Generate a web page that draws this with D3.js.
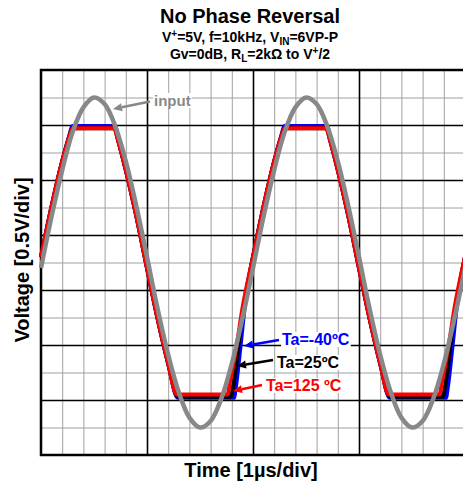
<!DOCTYPE html>
<html>
<head>
<meta charset="UTF-8">
<script src="https://d3js.org/d3.v7.min.js"></script>
<style>
  body { margin: 0; background: #fff; }
  svg { display: block; font-family: "Liberation Sans", Arial, sans-serif; }
</style>
</head>
<body>
<div id="chart"></div>
<script>
// sample times [us] and input sine [V]
var sampleTimes = [0.0,0.1,0.2,0.3,0.4,0.5,0.6,0.7,0.8,0.9,1.0,1.1,1.2,1.3,1.4,1.5,1.6,1.7,1.8,1.9,
                   2.0,2.1,2.2,2.3,2.4,2.5,2.6,2.7,2.8,2.9,3.0,3.1,3.2,3.3,3.4,3.5,3.6,3.7,3.8,3.9,4.0];
var inputValues = [2.45,2.92,3.34,3.69,3.91,4.00,3.94,3.74,3.42,3.01,2.55,2.08,1.66,1.32,1.09,1.00,1.06,1.26,1.58,1.99,
                   2.45,2.92,3.34,3.69,3.91,4.00,3.94,3.74,3.42,3.01,2.55,2.08,1.66,1.32,1.09,1.00,1.06,1.26,1.58,1.99,2.45];

// output traces, [time us, volts]
var outBlue = [[0.00,2.55],[0.10,3.01],[0.20,3.42],[0.26,3.63],[0.30,3.74],[0.70,3.74],[0.73,3.61],[0.80,3.34],[0.90,2.92],
  [1.00,2.45],[1.10,1.99],[1.20,1.58],[1.29,1.27],[1.82,1.27],[1.84,1.38],[1.88,1.72],[1.92,2.08],[1.97,2.40],
  [2.00,2.55],[2.10,3.01],[2.20,3.42],[2.26,3.63],[2.30,3.74],[2.70,3.74],[2.73,3.61],[2.80,3.34],[2.90,2.92],
  [3.00,2.45],[3.10,1.99],[3.20,1.58],[3.29,1.27],[3.82,1.27],[3.84,1.38],[3.88,1.72],[3.92,2.08],[3.97,2.40],[4.00,2.55]];
var outBlack = [[0.00,2.55],[0.10,3.01],[0.20,3.42],[0.26,3.62],[0.30,3.72],[0.69,3.72],[0.73,3.60],[0.80,3.34],[0.90,2.92],
  [1.00,2.45],[1.10,1.99],[1.20,1.58],[1.29,1.28],[1.79,1.28],[1.81,1.36],[1.84,1.56],[1.88,1.90],[1.95,2.31],
  [2.00,2.55],[2.10,3.01],[2.20,3.42],[2.26,3.62],[2.30,3.72],[2.69,3.72],[2.73,3.60],[2.80,3.34],[2.90,2.92],
  [3.00,2.45],[3.10,1.99],[3.20,1.58],[3.29,1.28],[3.79,1.28],[3.81,1.36],[3.84,1.56],[3.88,1.90],[3.95,2.31],[4.00,2.55]];
var outRed = [[0.00,2.55],[0.10,3.01],[0.20,3.42],[0.26,3.62],[0.30,3.72],[0.69,3.72],[0.73,3.60],[0.80,3.34],[0.90,2.92],
  [1.00,2.45],[1.10,1.99],[1.20,1.58],[1.28,1.30],[1.76,1.30],[1.78,1.40],[1.85,1.77],[1.90,2.08],
  [2.00,2.55],[2.10,3.01],[2.20,3.42],[2.26,3.62],[2.30,3.72],[2.69,3.72],[2.73,3.60],[2.80,3.34],[2.90,2.92],
  [3.00,2.45],[3.10,1.99],[3.20,1.58],[3.28,1.30],[3.76,1.30],[3.78,1.40],[3.85,1.77],[3.90,2.08],[4.00,2.55]];

var minorTimeTicks = [0.2,0.4,0.6,0.8,1.2,1.4,1.6,1.8,2.2,2.4,2.6,2.8,3.2,3.4,3.6,3.8];
var majorTimeTicks = [1,2,3];
var minorVoltTicks = [1.0,1.5,2.0,2.5,3.0,3.5,4.0];
var majorVoltTicks = [1.25,1.75,2.25,2.75,3.25,3.75];

var width = 463, height = 484;
var svg = d3.select("#chart").append("svg")
  .attr("width", width)
  .attr("height", height);

var x = d3.scaleLinear().domain([0, 4]).range([41, 465]);
var y = d3.scaleLinear().domain([0.75, 4.25]).range([455, 70]);

// grid
var grid = svg.append("g");
grid.append("g").attr("transform", "translate(0,455)")
  .call(d3.axisBottom(x).tickValues(minorTimeTicks).tickSize(-385).tickFormat(""))
  .call(function (g) { g.select(".domain").remove(); g.selectAll("line").attr("stroke", "#a0a0a0").attr("stroke-width", 1); });
grid.append("g").attr("transform", "translate(41,0)")
  .call(d3.axisLeft(y).tickValues(minorVoltTicks).tickSize(-424).tickFormat(""))
  .call(function (g) { g.select(".domain").remove(); g.selectAll("line").attr("stroke", "#a0a0a0").attr("stroke-width", 1); });
grid.append("g").attr("transform", "translate(0,455)")
  .call(d3.axisBottom(x).tickValues(majorTimeTicks).tickSize(-385).tickFormat(""))
  .call(function (g) { g.select(".domain").remove(); g.selectAll("line").attr("stroke", "#000").attr("stroke-width", 1.6); });
grid.append("g").attr("transform", "translate(41,0)")
  .call(d3.axisLeft(y).tickValues(majorVoltTicks).tickSize(-424).tickFormat(""))
  .call(function (g) { g.select(".domain").remove(); g.selectAll("line").attr("stroke", "#000").attr("stroke-width", 1.6); });

// frame (left, top, bottom)
svg.append("path")
  .attr("d", "M465,70 H41 V455 H465")
  .attr("fill", "none")
  .attr("stroke", "#000")
  .attr("stroke-width", 2.5);

// traces
var outLine = d3.line()
  .x(function (d) { return x(d[0]); })
  .y(function (d) { return y(d[1]); })
  .curve(d3.curveMonotoneX);

var traces = [
  { data: outBlue, color: "#0000ff" },
  { data: outBlack, color: "#000000" },
  { data: outRed, color: "#ff0000" }
];
traces.forEach(function (t) {
  svg.append("path")
    .datum(t.data)
    .attr("d", outLine)
    .attr("fill", "none")
    .attr("stroke", t.color)
    .attr("stroke-width", 4)
    .attr("stroke-linejoin", "round");
});

var inLine = d3.line()
  .x(function (d, i) { return x(sampleTimes[i]); })
  .y(function (d) { return y(d); })
  .curve(d3.curveCatmullRom);

svg.append("path")
  .datum(inputValues)
  .attr("d", inLine)
  .attr("fill", "none")
  .attr("stroke", "#888888")
  .attr("stroke-width", 4.5);

// annotations
var notes = [
  { text: "input", color: "#888888", size: 15, tx: 154, ty: 106, tail: [150, 101.5], head: [113, 109] },
  { text: "Ta=-40ºC", color: "#0000ff", size: 16, tx: 282, ty: 345, tail: [279, 340], head: [244, 346] },
  { text: "Ta=25ºC", color: "#000000", size: 16, tx: 277, ty: 368, tail: [273, 360], head: [237, 366] },
  { text: "Ta=125 ºC", color: "#ff0000", size: 16, tx: 266, ty: 391, tail: [262, 385], head: [233, 391] }
];

notes.forEach(function (n) {
  var label = svg.append("text")
    .attr("x", n.tx)
    .attr("y", n.ty)
    .attr("fill", n.color)
    .attr("font-size", n.size)
    .attr("font-weight", "bold")
    .text(n.text);
  var bb = label.node().getBBox();
  svg.insert("rect", function () { return label.node(); })
    .attr("x", bb.x - 1).attr("y", bb.y + 1)
    .attr("width", bb.width + 2).attr("height", bb.height - 2)
    .attr("fill", "#fff");

  var dx = n.head[0] - n.tail[0], dy = n.head[1] - n.tail[1];
  var len = Math.sqrt(dx * dx + dy * dy);
  var ux = dx / len, uy = dy / len;
  var hl = 9, hw = 4;
  var bx = n.head[0] - ux * hl, by = n.head[1] - uy * hl;
  svg.append("line")
    .attr("x1", n.tail[0]).attr("y1", n.tail[1])
    .attr("x2", bx).attr("y2", by)
    .attr("stroke", n.color)
    .attr("stroke-width", 2.5);
  svg.append("path")
    .attr("d", "M" + n.head[0] + "," + n.head[1] +
      "L" + (bx - uy * hw) + "," + (by + ux * hw) +
      "L" + (bx + uy * hw) + "," + (by - ux * hw) + "Z")
    .attr("fill", n.color);
});

// titles
svg.append("text")
  .attr("x", 250).attr("y", 23)
  .attr("text-anchor", "middle")
  .attr("font-size", 20)
  .attr("font-weight", "bold")
  .text("No Phase Reversal");

var line1 = svg.append("text")
  .attr("x", 250).attr("y", 42)
  .attr("text-anchor", "middle")
  .attr("font-size", 14)
  .attr("font-weight", "bold");
line1.append("tspan").text("V");
line1.append("tspan").attr("font-size", 10).attr("dy", -5).text("+");
line1.append("tspan").attr("dy", 5).text("=5V, f=10kHz, V");
line1.append("tspan").attr("font-size", 10).attr("dy", 3).text("IN");
line1.append("tspan").attr("dy", -3).text("=6VP-P");

var line2 = svg.append("text")
  .attr("x", 250).attr("y", 59)
  .attr("text-anchor", "middle")
  .attr("font-size", 14)
  .attr("font-weight", "bold");
line2.append("tspan").text("Gv=0dB, R");
line2.append("tspan").attr("font-size", 10).attr("dy", 3).text("L");
line2.append("tspan").attr("dy", -3).text("=2kΩ to V");
line2.append("tspan").attr("font-size", 10).attr("dy", -5).text("+");
line2.append("tspan").attr("dy", 5).text("/2");

// axis titles
svg.append("text")
  .attr("x", 251).attr("y", 477)
  .attr("text-anchor", "middle")
  .attr("font-size", 20)
  .attr("font-weight", "bold")
  .text("Time [1µs/div]");

svg.append("text")
  .attr("transform", "translate(29,260) rotate(-90)")
  .attr("text-anchor", "middle")
  .attr("font-size", 20)
  .attr("font-weight", "bold")
  .text("Voltage [0.5V/div]");
</script>
</body>
</html>
